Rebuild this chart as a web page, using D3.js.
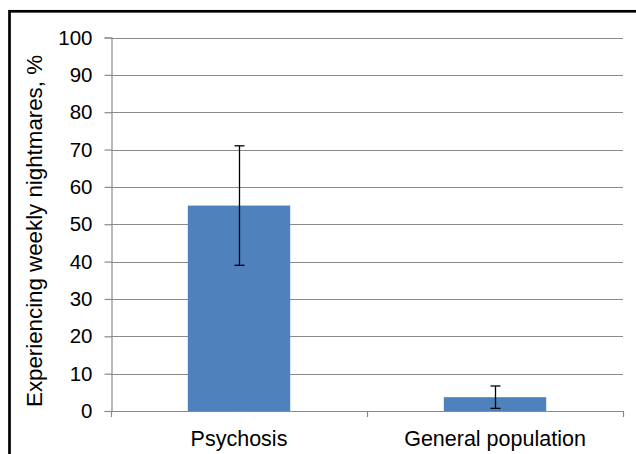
<!DOCTYPE html>
<html><head><meta charset="utf-8">
<script src="https://cdn.jsdelivr.net/npm/d3@7"></script>
<style>html,body{margin:0;padding:0;background:#fff;}svg{display:block;}</style>
</head><body>
<script>
const categories = ["Psychosis", "General population"];
const values = [55, 3.7];
const errLow = [39, 0.7];
const errHigh = [71, 6.7];
const yTicks = [0, 10, 20, 30, 40, 50, 60, 70, 80, 90, 100];
const yLabel = "Experiencing weekly nightmares, %";

(function () {
const W = 636, H = 454;
const svg = d3.select("body").append("svg").attr("width", W).attr("height", H);
svg.append("rect").attr("width", W).attr("height", H).attr("fill", "#fff");
svg.append("rect").attr("x", 9.5).attr("y", 11.3).attr("width", 800).attr("height", 800)
  .attr("fill", "none").attr("stroke", "#000").attr("stroke-width", 2.7);

const pL = 111, pR = 623, pT = 37.5, pB = 411;
const x = d3.scaleBand().domain(categories).range([pL, pR]).paddingInner(0.6).paddingOuter(0.3);
const y = d3.scaleLinear().domain([0, 100]).range([pB, pT]);
const grey = "#8a8a8a";
const font = "Arial, 'Liberation Sans', sans-serif";

// gridlines
svg.append("g").selectAll("line").data(yTicks).join("line")
  .attr("x1", pL).attr("x2", pR)
  .attr("y1", d => Math.round(y(d)) + 0.5).attr("y2", d => Math.round(y(d)) + 0.5)
  .attr("stroke", grey).attr("stroke-width", 1.2);

// y axis
const yAxis = svg.append("g").attr("transform", `translate(${pL + 0.5},0)`)
  .call(d3.axisLeft(y).tickValues(yTicks).tickSize(7).tickPadding(12));
yAxis.select(".domain").attr("stroke", grey).attr("stroke-width", 1.2);
yAxis.selectAll(".tick line").attr("stroke", grey).attr("stroke-width", 1.2);
yAxis.selectAll(".tick text").attr("font-family", font).attr("font-size", 20.5).attr("fill", "#000");

// x axis
const xAxis = svg.append("g").attr("transform", `translate(0,${Math.round(pB) + 0.5})`)
  .call(d3.axisBottom(x).tickSize(0).tickPadding(19));
xAxis.select(".domain").remove();
xAxis.selectAll(".tick text").attr("font-family", font).attr("font-size", 21.5).attr("fill", "#000");
const bounds = [pL, (pL + pR) / 2, pR];
svg.append("g").selectAll("line").data(bounds).join("line")
  .attr("x1", d => Math.round(d) + 0.5).attr("x2", d => Math.round(d) + 0.5)
  .attr("y1", pB).attr("y2", pB + 6)
  .attr("stroke", grey).attr("stroke-width", 1.2);
svg.append("line").attr("x1", pL).attr("x2", pR)
  .attr("y1", Math.round(pB) + 0.5).attr("y2", Math.round(pB) + 0.5)
  .attr("stroke", grey).attr("stroke-width", 1.2);

// bars
svg.append("g").selectAll("rect").data(categories).join("rect")
  .attr("x", d => x(d)).attr("width", x.bandwidth())
  .attr("y", (d, i) => y(values[i])).attr("height", (d, i) => y(0) - y(values[i]))
  .attr("fill", "#4F81BD");

// error bars
const eb = svg.append("g").attr("stroke", "#000").attr("stroke-width", 1.3);
categories.forEach((c, i) => {
  const cx = Math.round(x(c) + x.bandwidth() / 2) + 0.5;
  eb.append("line").attr("x1", cx).attr("x2", cx).attr("y1", y(errHigh[i])).attr("y2", y(errLow[i]));
  eb.append("line").attr("x1", cx - 5).attr("x2", cx + 5).attr("y1", y(errHigh[i])).attr("y2", y(errHigh[i]));
  eb.append("line").attr("x1", cx - 5).attr("x2", cx + 5).attr("y1", y(errLow[i])).attr("y2", y(errLow[i]));
});

// y label
svg.append("text").attr("transform", `translate(42,231) rotate(-90)`)
  .attr("text-anchor", "middle").attr("font-family", font).attr("font-size", 22.3)
  .attr("fill", "#000").text(yLabel);
})();
</script>
</body></html>
